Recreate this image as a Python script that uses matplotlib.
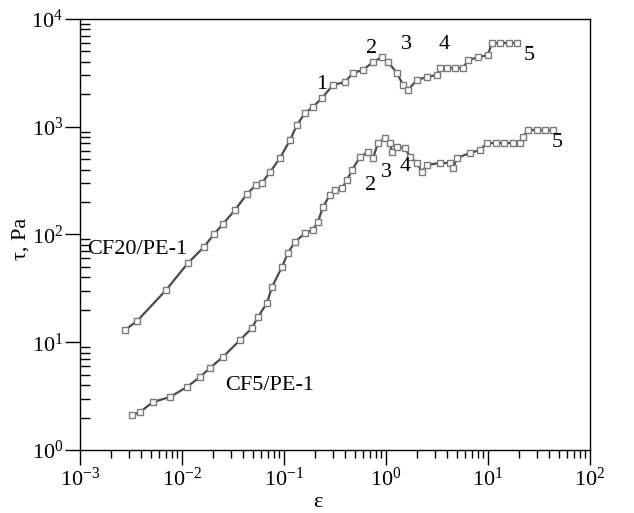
import matplotlib
matplotlib.use("Agg")
import matplotlib.pyplot as plt
from matplotlib.ticker import LogLocator, NullFormatter

plt.rcParams["font.family"] = ["Liberation Serif", "DejaVu Serif"]
plt.rcParams["mathtext.fontset"] = "custom"
plt.rcParams["mathtext.rm"] = "Liberation Serif"
plt.rcParams["mathtext.it"] = "Liberation Serif:italic"

# CF20/PE-1 curve (strain, stress in Pa)
cf20_strain = [0.00276, 0.00362, 0.00697, 0.01146, 0.01644, 0.0206, 0.0252, 0.0331,
               0.0434, 0.0531, 0.0608, 0.0729, 0.0914, 0.1146, 0.134, 0.1606, 0.192,
               0.236, 0.302, 0.396, 0.475, 0.595, 0.746, 0.914, 1.047, 1.28, 1.47,
               1.64, 2.01, 2.52, 3.16, 3.38, 4.0, 4.8, 5.69, 6.37, 8.0, 10.0, 10.9,
               13.0, 16.0, 19.2]
cf20_stress = [13.0, 15.7, 30.5, 54.4, 76.6, 101, 125, 169,
               238, 288, 301, 380, 513, 753, 1038, 1342, 1525,
               1849, 2440, 2600, 3155, 3365, 3990, 4440, 3990, 3155, 2440,
               2193, 2716, 2897, 3020, 3510, 3510, 3510, 3510, 4165, 4400, 4640, 5990,
               5990, 5990, 5990]

# CF5/PE-1 curve
cf5_strain = [0.00324, 0.00387, 0.0052, 0.00762, 0.0112, 0.015, 0.0188, 0.0252,
              0.0371, 0.0486, 0.0556, 0.0681, 0.0762, 0.0955, 0.109, 0.128, 0.161,
              0.192, 0.215, 0.241, 0.282, 0.316, 0.371, 0.415, 0.465, 0.556, 0.667,
              0.746, 0.835, 0.978, 1.09, 1.15, 1.28, 1.54, 1.72, 2.01, 2.26, 2.52,
              3.38, 4.24, 4.54, 4.97, 6.66, 8.35, 9.78, 12.0, 14.5, 17.5, 20.6, 22.0,
              24.7, 30.0, 36.0, 43.4]
cf5_stress = [2.11, 2.25, 2.79, 3.10, 3.85, 4.76, 5.77, 7.30,
              10.5, 13.6, 17.2, 23.1, 32.6, 49.9, 67.4, 85.2, 103,
              110, 131, 180, 233, 259, 270, 321, 397, 524, 583,
              513, 707, 787, 707, 583, 649, 635, 524, 461, 380, 442,
              461, 461, 414, 513, 571, 608, 707, 707, 707, 707, 707, 804,
              933, 933, 933, 933]

# numbered labels: (text, strain, stress)
cf20_marks = [("1", 0.235, 2450), ("2", 0.73, 5380), ("3", 1.57, 5860), ("4", 3.71, 5860), ("5", 25.2, 4540)]
cf5_marks = [("2", 0.713, 288), ("3", 1.02, 380), ("4", 1.54, 432), ("5", 47.4, 707)]

fig = plt.figure(figsize=(6.34, 5.13), dpi=100)
ax = fig.add_axes([80 / 634, 63 / 513, 510 / 634, 431 / 513])

for xs, ys in ((cf20_strain, cf20_stress), (cf5_strain, cf5_stress)):
    ax.plot(xs, ys, color="#4a4a4a", linewidth=1.6, marker="s", markersize=4.5,
            markerfacecolor="white", markeredgecolor="#7a7a7a", markeredgewidth=1.0)

ax.set_xscale("log")
ax.set_yscale("log")
ax.set_xlim(1e-3, 1e2)
ax.set_ylim(1e0, 1e4)

ax.xaxis.set_major_locator(LogLocator(base=10, numticks=10))
ax.xaxis.set_minor_locator(LogLocator(base=10, subs=range(2, 10), numticks=10))
ax.yaxis.set_major_locator(LogLocator(base=10, numticks=10))
ax.yaxis.set_minor_locator(LogLocator(base=10, subs=range(2, 10), numticks=10))
ax.xaxis.set_minor_formatter(NullFormatter())
ax.yaxis.set_minor_formatter(NullFormatter())

ax.tick_params(axis="x", which="major", direction="out", length=11, width=1, labelsize=16, pad=2)
ax.tick_params(axis="x", which="minor", direction="out", length=6, width=1)
ax.tick_params(axis="y", which="major", direction="out", length=11, width=1, labelsize=16, pad=1)
ax.tick_params(axis="y", which="minor", direction="in", length=7, width=1)
for s in ax.spines.values():
    s.set_linewidth(1.0)

ax.set_xlabel("ε", fontsize=16)
ax.set_ylabel("τ, Pa", fontsize=16)
ax.xaxis.set_label_coords(0.467, -0.1)
ax.yaxis.set_label_coords(-0.096, 0.49)

ax.text(0.00117, 72, "CF20/PE-1", fontsize=16, ha="left", va="center")
ax.text(0.0264, 4.0, "CF5/PE-1", fontsize=16, ha="left", va="center")
for label, x, y in cf20_marks + cf5_marks:
    ax.text(x, y, label, fontsize=16, ha="center", va="center")

fig.savefig("out.png", dpi=100, facecolor="white")
